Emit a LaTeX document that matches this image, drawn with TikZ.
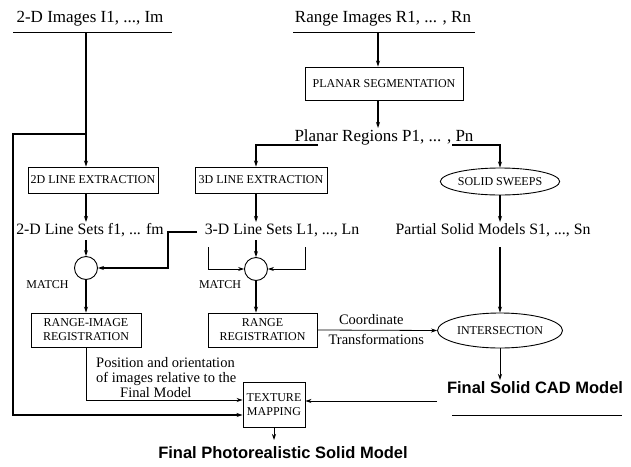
\documentclass[tikz,border=0pt]{standalone}
\usepackage{fontspec}
\setmainfont{Liberation Serif}
\newfontfamily\headfont{Liberation Sans}
\usetikzlibrary{arrows.meta,shapes.geometric}

\tikzset{
  lbl/.style={font=\fontsize{17}{19}\selectfont, inner sep=0pt},
  midlbl/.style={font=\fontsize{15.8}{18}\selectfont, inner sep=0pt},
  smlbl/.style={font=\fontsize{14.5}{15}\selectfont, inner sep=0pt},
  caplbl/.style={font=\fontsize{12}{13}\selectfont, inner sep=0pt},
  boldlbl/.style={font=\headfont\bfseries\fontsize{16.5}{18}\selectfont, inner sep=0pt},
  procbox/.style={draw, line width=0.9pt, font=\fontsize{12}{14}\selectfont, align=center, inner sep=0pt},
  procoval/.style={draw, ellipse, line width=0.9pt, font=\fontsize{12}{14}\selectfont, inner sep=0pt},
  matchnode/.style={draw, circle, line width=0.9pt, minimum size=23pt, inner sep=0pt},
  flow/.style={line width=1.4pt, -{Stealth[length=6pt,width=4pt]}},
  thinflow/.style={line width=0.8pt, -{Stealth[length=6pt,width=4pt]}},
  rule/.style={line width=0.9pt}
}

\begin{document}
\begin{tikzpicture}[x=1pt,y=-1pt]
\useasboundingbox (0,0) rectangle (631,466);

% inputs
\node[lbl] (img2) at (90,19) {2-D Images I1, ..., Im};
\node[lbl] (rng) at (383,19) {Range Images R1, ... , Rn};
\draw[rule] (13,32) -- (172,32);
\draw[rule] (293,32) -- (475,32);
\coordinate (i2) at (86,32);
\coordinate (r1) at (378,32);

% boxes
\node[procbox, minimum width=158pt, minimum height=33pt] (seg) at (384,83.5) {PLANAR SEGMENTATION};
\node[procbox, minimum width=130pt, minimum height=26pt] (ext2) at (93,180) {2D LINE EXTRACTION};
\node[procbox, minimum width=132pt, minimum height=26pt] (ext3) at (261,180) {3D LINE EXTRACTION};
\node[procoval, minimum width=111pt, minimum height=27pt] (sweep) at (500,181.5) {SOLID SWEEPS};
\node[matchnode] (m2) at (86,268) {};
\node[matchnode] (m3) at (256,269) {};
\node[procbox, minimum width=110pt, minimum height=34pt] (reg2) at (86,330) {RANGE-IMAGE\\REGISTRATION};
\node[procbox, minimum width=109pt, minimum height=34pt] (reg3) at (262.5,330) {RANGE\\REGISTRATION};
\node[procoval, minimum width=125pt, minimum height=35pt] (inter) at (500,330.5) {INTERSECTION};
\node[procbox, minimum width=62pt, minimum height=45pt] (tex) at (274,404.5) {TEXTURE\\MAPPING};

% data labels
\node[lbl] (planar) at (384,137) {Planar Regions P1, ... , Pn};
\node[midlbl] (ls2) at (90,230) {2-D Line Sets f1, ... fm};
\node[midlbl] (ls3) at (282,230) {3-D Line Sets L1, ..., Ln};
\node[midlbl] (partial) at (493,230) {Partial Solid Models S1, ..., Sn};
\node[caplbl] (mt2) at (47.5,285) {MATCH};
\node[caplbl] (mt3) at (220,285) {MATCH};
\node[smlbl, anchor=north west, align=left] (pose) at (96,357) {Position and orientation\\of images relative to the\\\hspace*{24pt}Final Model};
\node[boldlbl] (cad) at (535,388) {Final Solid CAD Model};
\draw[rule] (452,415) -- (622,415);
\node[boldlbl] (photo) at (283,453) {Final Photorealistic Solid Model};
\coordinate (l3) at (197,232);

% range branch
\draw[flow] (r1) -- (r1 |- seg.north);
\draw[flow] (r1 |- seg.south) -- (378,128);
\draw[flow] (318,145) -- (256,145) -- (256,0 |- ext3.north);
\draw[flow] (452,145) -- (500,145) -- (sweep.north);
\draw[flow] (256,0 |- ext3.south) -- (256,222);
\draw[flow] (256,240) -- (m3.north);
\draw[thinflow] (208,247) |- (m3.west);
\draw[thinflow] (305,247) |- (m3.east);
\draw[flow] (m3.south) -- (256,0 |- reg3.north);
\draw[flow] (sweep.south) -- (500,222);
\draw[flow] (500,247) -- (inter.north);
\draw[thinflow] (reg3.east) -- node[smlbl, above=5pt, xshift=-6pt] {Coordinate} node[smlbl, below=4pt, xshift=-1pt] {Transformations} (inter.west);
\draw[thinflow] (inter.south) -- (500,380);

% image branch
\draw[flow] (i2) -- (i2 |- ext2.north);
\draw[flow] (86,134) -- (13,134) -- (13,415) -- (tex.west |- 0,415);
\draw[flow] (86,0 |- ext2.south) -- (86,222);
\draw[flow] (86,240) -- (m2.north);
\draw[flow] (l3) -- (168,232) -- (168,268) -- (m2.east);
\draw[flow] (m2.south) -- (reg2.north);
\draw[thinflow] (reg2.south) |- (tex.west |- 0,400);
\draw[thinflow] (437,401) -- (tex.east |- 0,401);
\draw[thinflow] (tex.south) -- (274,440);
\end{tikzpicture}
\end{document}
